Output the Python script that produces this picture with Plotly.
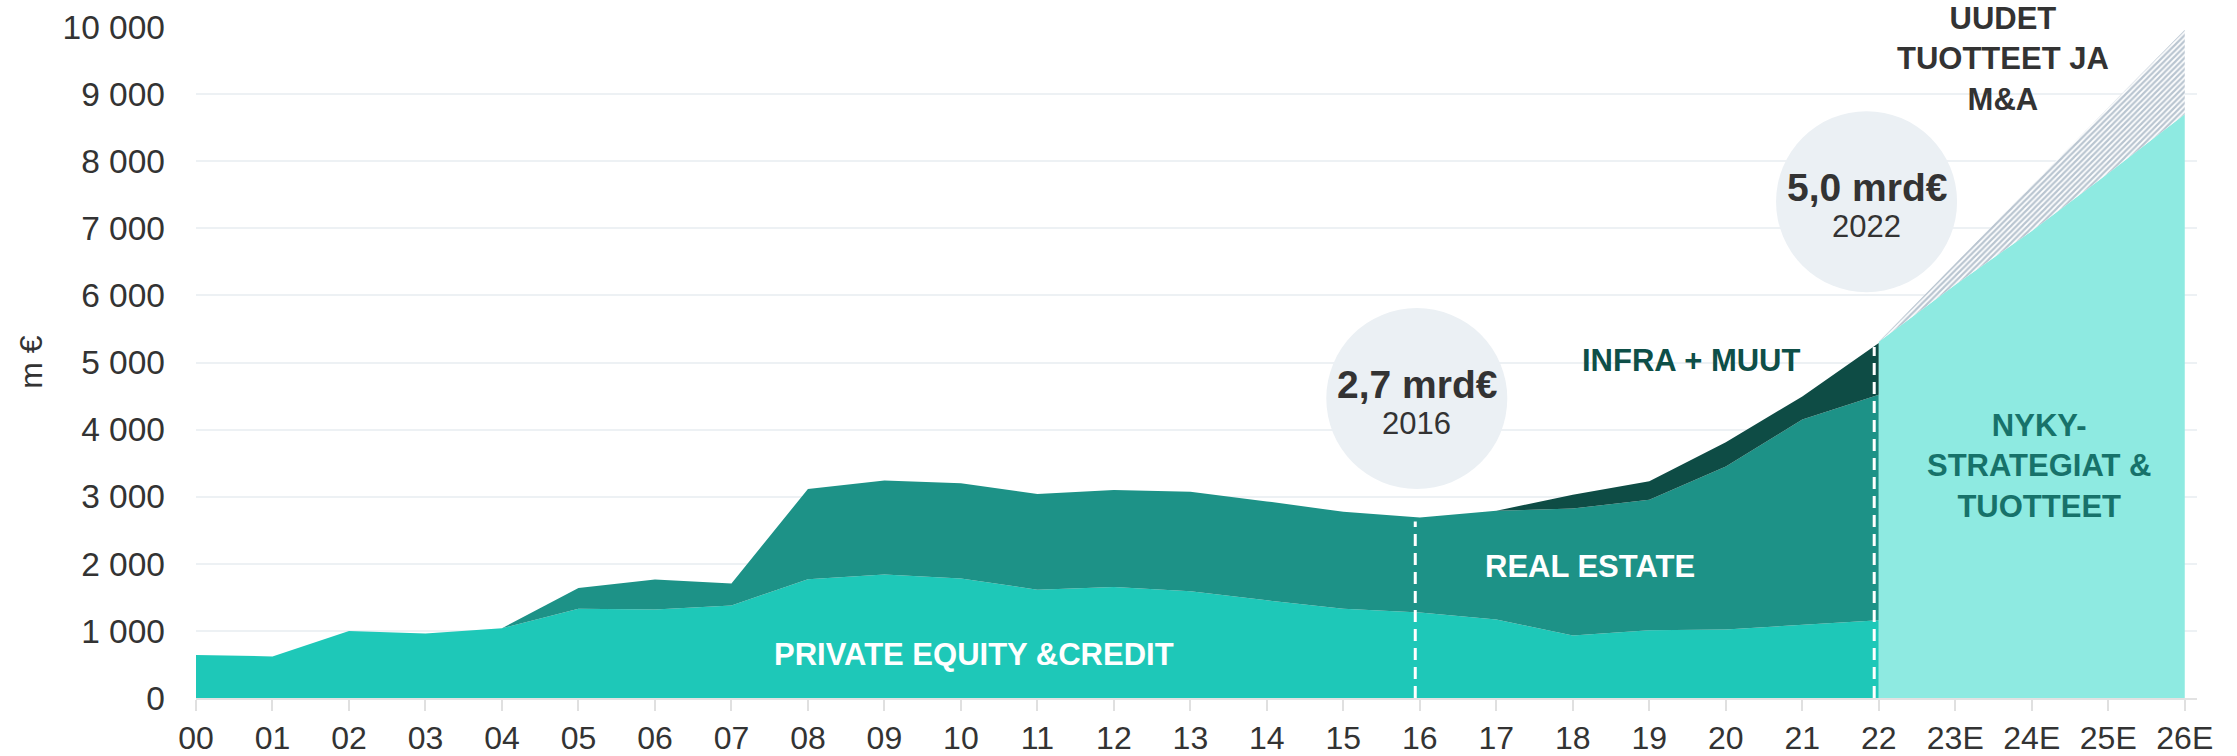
import plotly.graph_objects as go

# ---------------- data ----------------
years = ["00", "01", "02", "03", "04", "05", "06", "07", "08", "09", "10", "11",
         "12", "13", "14", "15", "16", "17", "18", "19", "20", "21", "22"]
proj_years = ["22", "23E", "24E", "25E", "26E"]
tick_labels = years + proj_years[1:]

pe_credit = [640, 620, 1000, 960, 1040, 1330, 1320, 1380, 1770, 1840, 1780, 1615,
             1655, 1590, 1455, 1330, 1275, 1170, 930, 1010, 1020, 1085, 1160]
real_estate = [0, 0, 0, 0, 0, 310, 445, 325, 1345, 1400, 1420, 1425,
               1445, 1485, 1475, 1445, 1415, 1620, 1895, 1945, 2430, 3065, 3360]
infra_muut = [0, 0, 0, 0, 0, 0, 0, 0, 0, 0, 0, 0,
              0, 0, 0, 0, 0, 0, 205, 275, 360, 345, 770]

nyky_strategiat = [5310, 6160, 6960, 7820, 8700]
uudet_tuotteet = [0, 320, 680, 980, 1260]

y_ticks = [0, 1000, 2000, 3000, 4000, 5000, 6000, 7000, 8000, 9000, 10000]
y_tick_text = ["0", "1 000", "2 000", "3 000", "4 000", "5 000", "6 000",
               "7 000", "8 000", "9 000", "10 000"]

# ---------------- style ----------------
C_PE = "#1ec8b8"
C_RE = "#1d9287"
C_INFRA = "#0e4c45"
C_PROJ = "#8eeae1"
C_HATCH = "#738ba2"
C_TEXT = "#333333"
C_CIRCLE = "#ebf0f4"
FONT = "Liberation Sans"

fig = go.Figure()

hist = [("Private Equity & Credit", pe_credit, C_PE),
        ("Real Estate", real_estate, C_RE),
        ("Infra + muut", infra_muut, C_INFRA)]
for name, vals, col in hist:
    fig.add_trace(go.Scatter(
        x=years, y=vals, name=name, mode="lines", stackgroup="hist",
        line=dict(width=0, color=col), fillcolor=col, hoverinfo="skip",
    ))

fig.add_trace(go.Scatter(
    x=proj_years, y=nyky_strategiat, name="Nyky-strategiat", mode="lines",
    stackgroup="proj", line=dict(width=0, color=C_PROJ), fillcolor=C_PROJ,
    hoverinfo="skip",
))
fig.add_trace(go.Scatter(
    x=proj_years, y=uudet_tuotteet, name="Uudet tuotteet", mode="lines",
    stackgroup="proj", line=dict(width=0, color=C_HATCH),
    fillpattern=dict(shape="/", fgcolor=C_HATCH, bgcolor="white", size=4, solidity=0.55),
    hoverinfo="skip",
))

# totals for dashed markers
totals = [a + b + c for a, b, c in zip(pe_credit, real_estate, infra_muut)]
i16 = years.index("16")
i22 = years.index("22")
shapes = []
for idx in (i16, i22):
    shapes.append(dict(type="line", xref="x", yref="y",
                       x0=idx - 0.06, x1=idx - 0.06, y0=0, y1=totals[idx] - 60,
                       line=dict(color="white", width=3, dash="12px,7px"), layer="above"))

# bubbles
bubbles = [(15.96, 4463, "2,7 mrd€", "2016"), (21.84, 7396, "5,0 mrd€", "2022")]
R = 90.5
annotations = []
for bx, by, big, small in bubbles:
    shapes.append(dict(type="circle", xref="x", yref="y", xsizemode="pixel", ysizemode="pixel",
                       xanchor=bx, yanchor=by, x0=-R, x1=R, y0=-R, y1=R,
                       fillcolor=C_CIRCLE, line=dict(width=0), layer="between"))
    annotations.append(dict(x=bx, y=by, xref="x", yref="y", text="<b>" + big + "</b>",
                            showarrow=False, yshift=14,
                            font=dict(family=FONT, size=39, color=C_TEXT)))
    annotations.append(dict(x=bx, y=by, xref="x", yref="y", text=small,
                            showarrow=False, yshift=-25,
                            font=dict(family=FONT, size=31, color=C_TEXT)))

labels = [
    (10.17, 650, "PRIVATE EQUITY &CREDIT", "white"),
    (18.23, 1967, "REAL ESTATE", "white"),
    (19.55, 5027, "INFRA + MUUT", "#0e4f48"),
    (24.09, 3462, "NYKY-<br>STRATEGIAT &<br>TUOTTEET", "#17726a"),
    (23.62, 9530, "UUDET<br>TUOTTEET JA<br>M&A", C_TEXT),
]
for lx, ly, txt, col in labels:
    annotations.append(dict(x=lx, y=ly, xref="x", yref="y", text="<b>" + txt + "</b>",
                            showarrow=False, align="center",
                            font=dict(family=FONT, size=31, color=col)))

annotations.append(dict(x=-0.0825, y=0.501, xref="paper", yref="paper", text="m €",
                        textangle=-90, showarrow=False, xanchor="center", yanchor="middle",
                        font=dict(family=FONT, size=32, color=C_TEXT)))

fig.update_layout(
    width=2237, height=756,
    margin=dict(l=196, r=40, t=27, b=58, autoexpand=False),
    plot_bgcolor="white", paper_bgcolor="white",
    showlegend=False,
    shapes=shapes, annotations=annotations,
    font=dict(family=FONT, color=C_TEXT),
)
fig.update_xaxes(
    type="category", categoryorder="array", categoryarray=tick_labels,
    range=[0, 26.16], tickvals=tick_labels, ticktext=tick_labels,
    showgrid=False, showline=True, linecolor="#e2e2e2", linewidth=2,
    ticks="outside", ticklen=11, tickwidth=2, tickcolor="#e0e0e0",
    tickfont=dict(family=FONT, size=32, color=C_TEXT), zeroline=False,
    automargin=False,
)
fig.update_yaxes(
    range=[0, 10000], tickvals=y_ticks, ticktext=y_tick_text,
    showgrid=True, gridcolor="#edf1f4", gridwidth=1.5, zeroline=False,
    showline=False, ticks="", ticklabelstandoff=30,
    tickfont=dict(family=FONT, size=33.5, color=C_TEXT),
    automargin=False,
)

fig.write_html("out.html", config={"displayModeBar": False},
               post_script="document.body.style.margin='0';document.body.style.overflow='hidden';")
